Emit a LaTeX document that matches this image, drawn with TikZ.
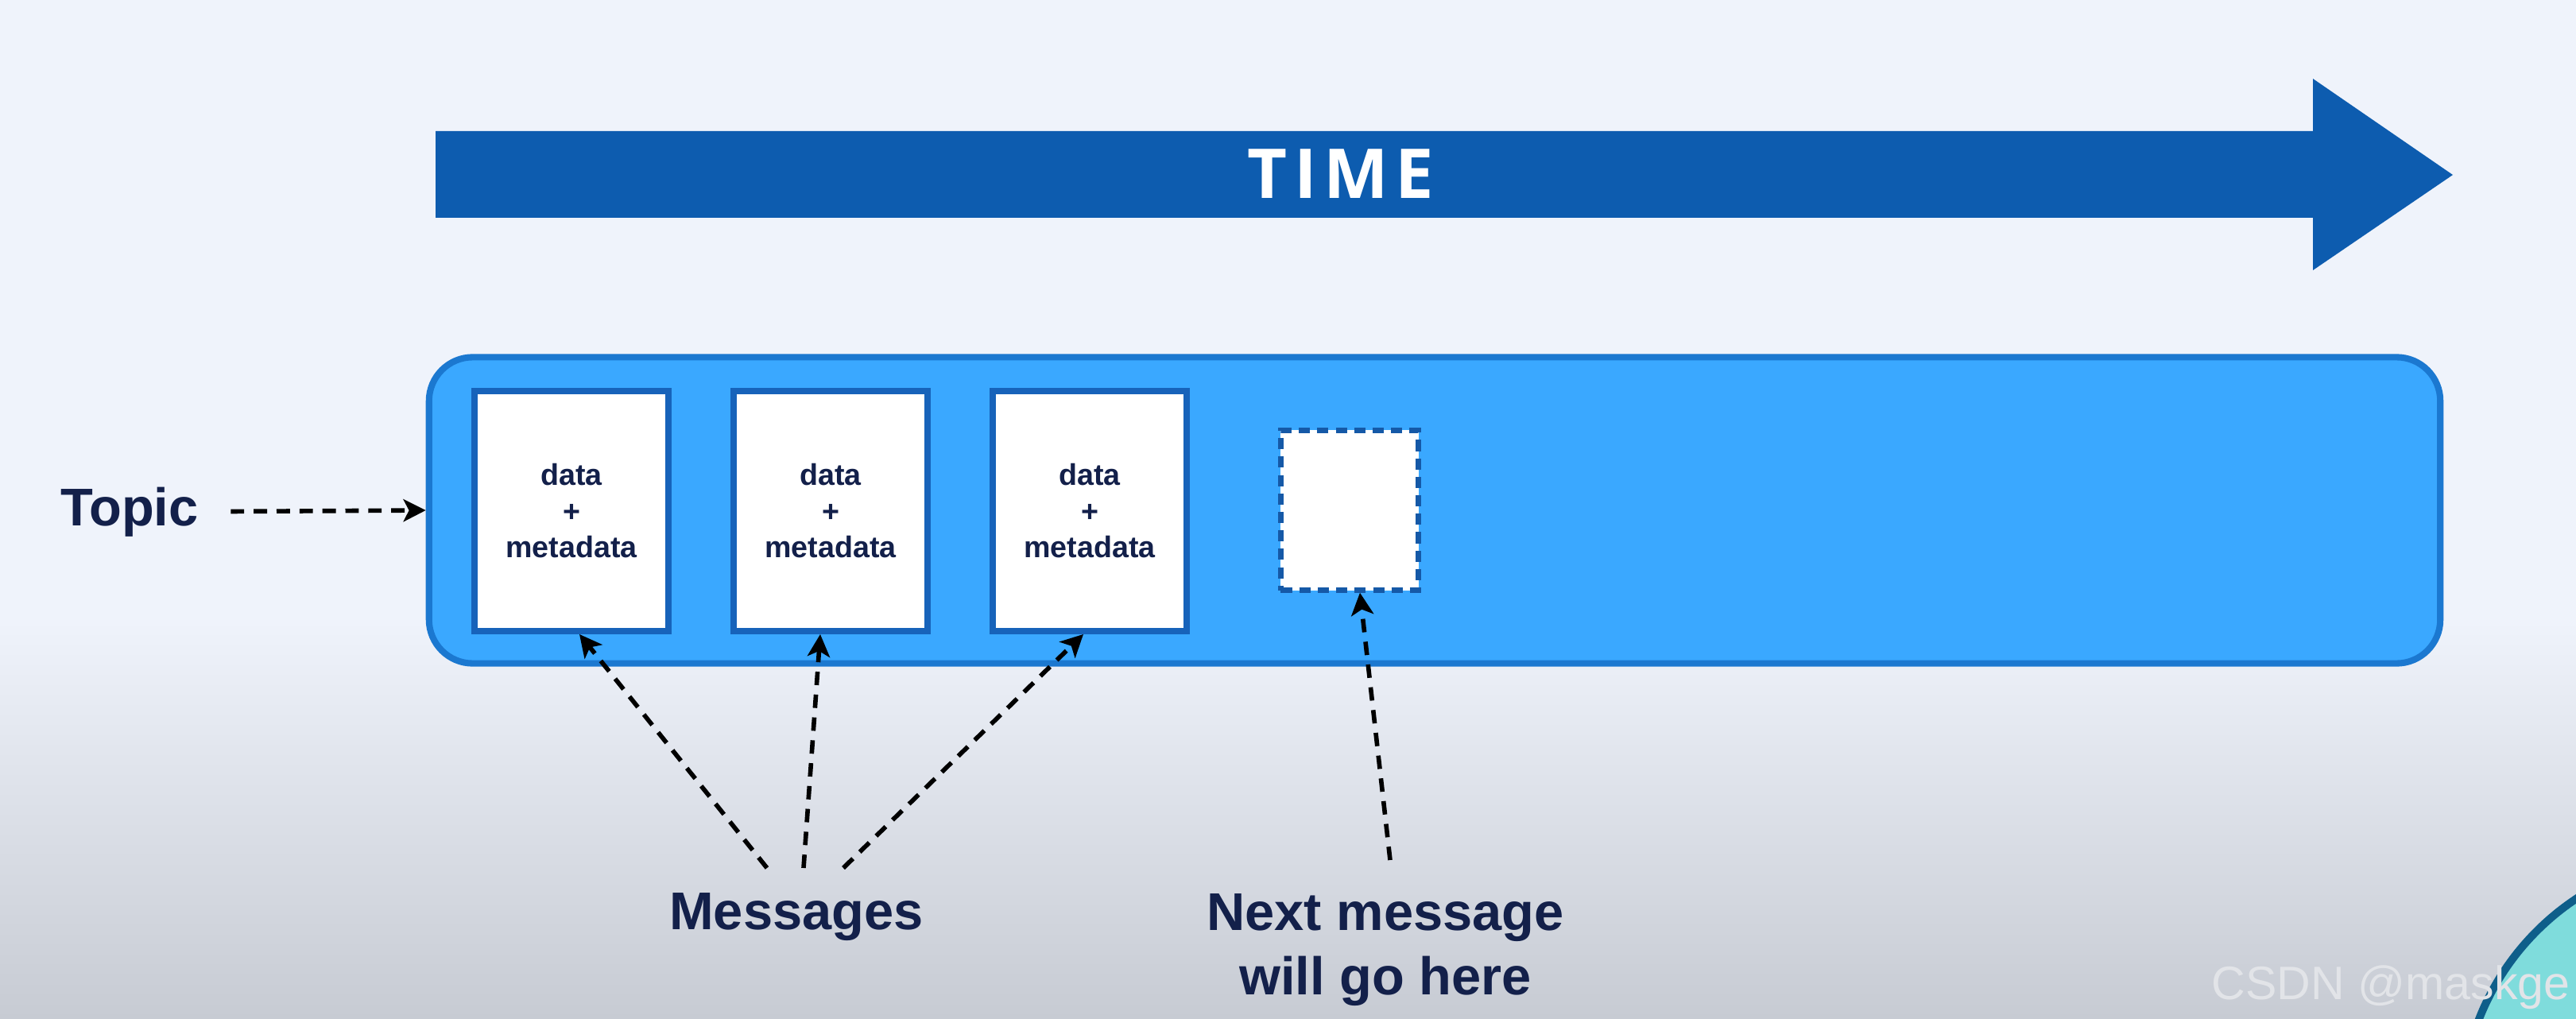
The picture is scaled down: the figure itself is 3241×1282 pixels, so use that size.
\documentclass[tikz,border=0pt]{standalone}
\usepackage{fontspec}
\setmainfont{Liberation Sans}
\newfontfamily\timefont[LetterSpace=10]{Open Sans}
\usetikzlibrary{arrows.meta,positioning}
\definecolor{bgtop}{HTML}{EFF3FB}
\definecolor{bgbot}{HTML}{C7CBD3}
\definecolor{timeblue}{HTML}{0D5CAF}
\definecolor{cfill}{HTML}{3AA8FF}
\definecolor{cborder}{HTML}{1B78D0}
\definecolor{boxblue}{HTML}{1763BA}
\definecolor{navy}{HTML}{13204A}
\definecolor{wmk}{HTML}{E2E4E8}
\definecolor{circf}{HTML}{7FDCDC}
\definecolor{circb}{HTML}{0E5E8A}
\tikzset{
    lbl/.style={text=navy, font=\fontsize{19}{23}\selectfont\bfseries, align=center, inner sep=0pt},
    msgb/.style={draw=boxblue, line width=2.2pt, fill=white, minimum width=2.44cm, minimum height=3.02cm,
        inner sep=0pt, align=center, text=navy, font=\fontsize{10.7}{12.95}\selectfont\bfseries},
    nxtb/.style={draw=boxblue!90!black, line width=1.8pt, dash pattern=on 4pt off 2.6pt, fill=white,
        minimum width=1.73cm, minimum height=2.01cm, inner sep=0pt},
    ptr/.style={line width=1.6pt, dash pattern=on 4.8pt off 3.4pt, -{Stealth[length=8pt,width=8pt,inset=2pt]}}
}

\begin{document}
\begin{tikzpicture}[x=0.01cm, y=-0.01cm]
    \useasboundingbox (0,0) rectangle (3241,1282);
    \clip (0,0) rectangle (3241,1282);

    % background
    \fill[bgtop] (0,0) rectangle (3241,1282);
    \shade[top color=bgtop, bottom color=bgbot] (0,780) rectangle (3241,1282);

    % time arrow
    \fill[timeblue] (548,165) -- (2910,165) -- (2910,99) -- (3086,220)
        -- (2910,340) -- (2910,274) -- (548,274) -- cycle;
    \node[anchor=base, text=white, inner sep=0pt,
        font=\timefont\bfseries\fontsize{24.6}{24.6}\selectfont] (time) at (1687,250) {TIME};

    % topic with messages
    \node[draw=cborder, fill=cfill, line width=2.3pt, rounded corners=0.55cm,
        minimum width=25.29cm, minimum height=3.85cm] (topicbox) at (1805,642) {};
    \node[msgb] (msg1) at (719,643) {data\\+\\metadata};
    \node[msgb] (msg2) at (1045,643) {data\\+\\metadata};
    \node[msgb] (msg3) at (1371,643) {data\\+\\metadata};
    \node[nxtb] (nxt) at (1698,642) {};

    \node[lbl, anchor=base] (topic) at (163,661) {Topic};
    \node[lbl, anchor=base] (msgs) at (1002,1169) {Messages};
    \node[lbl, anchor=base] (next) at (1743,1251) {Next message\\will go here};

    \coordinate (f1) at (965,1092);
    \coordinate (f2) at (1011,1092);
    \coordinate (f3) at (1061,1092);
    \coordinate (f4) at (1749,1082);

    \draw[ptr, shorten <=0.4cm] (topic.east) -- (topicbox.west);
    \draw[ptr] (f1) -- ([xshift=0.1cm]msg1.south);
    \draw[ptr] (f2) -- ([xshift=-0.13cm]msg2.south);
    \draw[ptr] (f3) -- ([xshift=-0.08cm]msg3.south);
    \draw[ptr] (f4) -- ([xshift=0.13cm]nxt.south);

    % corner badge and watermark
    \draw[line width=2.8pt, draw=circb, fill=circf] (3420,1400) circle (3.23cm);
    \node[anchor=base west, text=wmk, inner sep=0pt,
        font=\fontsize{16.8}{16.8}\selectfont] (wm) at (2782,1257) {CSDN @maskge};
\end{tikzpicture}
\end{document}
